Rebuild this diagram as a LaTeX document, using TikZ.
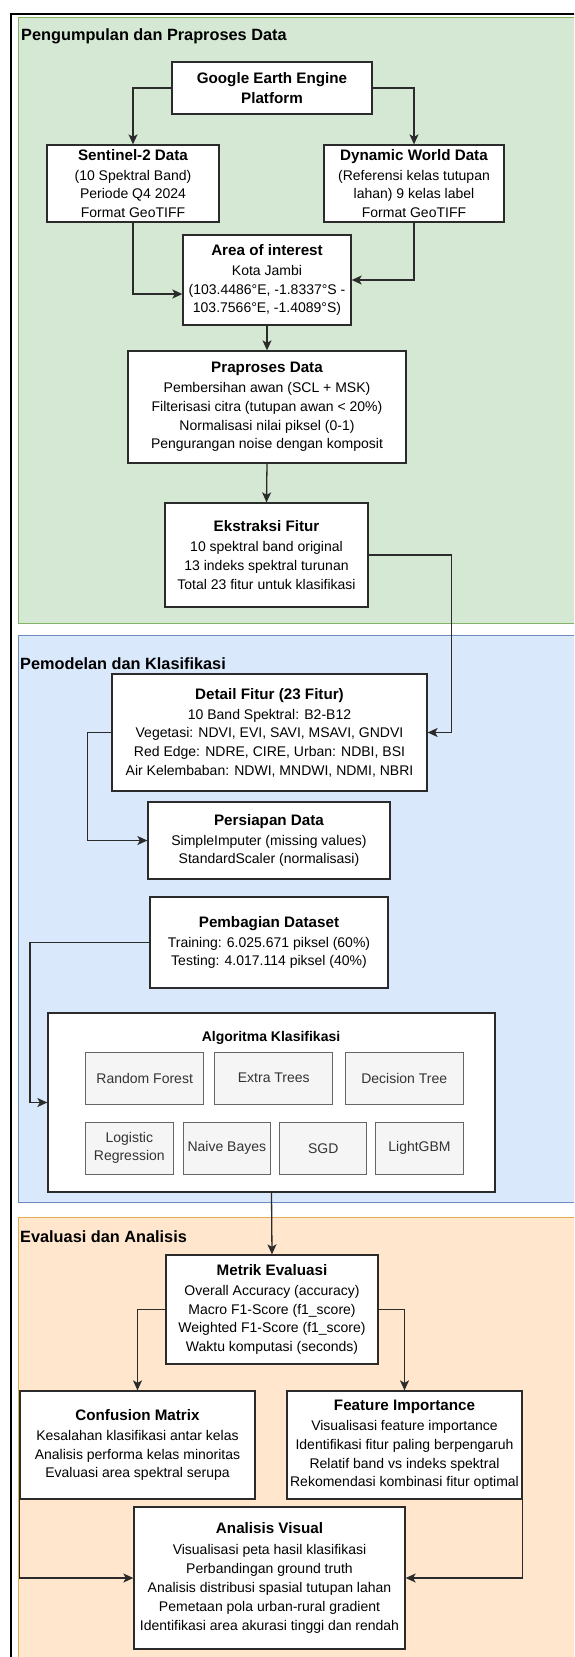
\documentclass[tikz,border=0pt]{standalone}
\usepackage{fontspec}
\setmainfont{Liberation Sans}
\usetikzlibrary{arrows.meta,calc}
\definecolor{gfill}{HTML}{D5E8D4}
\definecolor{gline}{HTML}{82B366}
\definecolor{bfill}{HTML}{DAE8FC}
\definecolor{bline}{HTML}{6C8EBF}
\definecolor{ofill}{HTML}{FFE6CC}
\definecolor{oline}{HTML}{E0B050}
\definecolor{algfill}{HTML}{F5F5F5}
\definecolor{algline}{HTML}{666666}
\definecolor{algtext}{HTML}{333333}
\definecolor{lncol}{HTML}{2B2B2B}
\newcommand{\ttl}[1]{{\fontsize{15.2}{18}\selectfont\bfseries #1}}
\tikzset{
  box/.style={draw=lncol, line width=1.3pt, fill=white, align=center, inner sep=0pt,
    font=\fontsize{14}{18.6}\selectfont},
  algbox/.style={draw=algline, line width=1pt, fill=algfill, text=algtext, align=center,
    inner sep=0pt, font=\fontsize{14}{18}\selectfont},
  conn/.style={draw=lncol, line width=1.3pt, -{Stealth[length=10pt,width=9pt,inset=2.5pt]}},
  plabel/.style={font=\fontsize{16.3}{19}\selectfont\bfseries, anchor=base west, inner sep=0pt},
}
\begin{document}
\begin{tikzpicture}[x=1pt,y=-1pt]
\useasboundingbox (0,0) rectangle (574,1657);
\clip (0,0) rectangle (574,1657);
\fill[white] (0,0) rectangle (574,1657);
% panels
\path[fill=gfill, draw=gline, line width=1pt] (18,17) rectangle (620,623);
\path[fill=bfill, draw=bline, line width=1pt] (18,635) rectangle (620,1202);
\path[fill=ofill, draw=oline, line width=1pt] (18,1217) rectangle (620,1700);
\draw[black, line width=2pt] (11,14) rectangle (700,1800);
\node[plabel] (lab1) at (21,40) {Pengumpulan dan Praproses Data};
\node[plabel] (lab2) at (20,669) {Pemodelan dan Klasifikasi};
\node[plabel] (lab3) at (20,1242) {Evaluasi dan Analisis};
% boxes
\node[box, minimum width=200, minimum height=52, font=\fontsize{15.2}{20}\selectfont\bfseries] (gee) at (272,88) {Google Earth Engine\\Platform};
\node[box, minimum width=172, minimum height=77] (s2) at (133,183.5) {\ttl{Sentinel-2 Data}\\[1.5pt](10 Spektral Band)\\Periode Q4 2024\\Format GeoTIFF};
\node[box, minimum width=180, minimum height=77] (dw) at (414,183.5) {\ttl{Dynamic World Data}\\[1.5pt](Referensi kelas tutupan\\lahan) 9 kelas label\\Format GeoTIFF};
\node[box, minimum width=168, minimum height=90] (aoi) at (267,280) {\ttl{Area of interest}\\[1.5pt]Kota Jambi\\(103.4486°E, -1.8337°S -\\103.7566°E, -1.4089°S)};
\node[box, minimum width=278, minimum height=112] (pra) at (267,407) {\ttl{Praproses Data}\\[1.5pt]Pembersihan awan (SCL + MSK)\\Filterisasi citra (tutupan awan < 20\%)\\Normalisasi nilai piksel (0-1)\\Pengurangan noise dengan komposit};
\node[box, minimum width=203, minimum height=104] (ekf) at (266.5,555) {\ttl{Ekstraksi Fitur}\\[1.5pt]10 spektral band original\\13 indeks spektral turunan\\Total 23 fitur untuk klasifikasi};
\node[box, minimum width=315, minimum height=117] (det) at (269.5,732.5) {\ttl{Detail Fitur (23 Fitur)}\\[1.5pt]10 Band Spektral: B2-B12\\Vegetasi: NDVI, EVI, SAVI, MSAVI, GNDVI\\Red Edge: NDRE, CIRE, Urban: NDBI, BSI\\Air Kelembaban: NDWI, MNDWI, NDMI, NBRI};
\node[box, minimum width=242, minimum height=77] (per) at (269,840.5) {\ttl{Persiapan Data}\\[1.5pt]SimpleImputer (missing values)\\StandardScaler (normalisasi)};
\node[box, minimum width=238, minimum height=91] (pemb) at (269,942.5) {\ttl{Pembagian Dataset}\\[1.5pt]Training: 6.025.671 piksel (60\%)\\Testing: 4.017.114 piksel (40\%)};
\node[box, minimum width=447, minimum height=179] (alg) at (271.5,1102.5) {};
\node[font=\fontsize{14}{17}\selectfont\bfseries, inner sep=0pt] (algt) at (271,1038) {Algoritma Klasifikasi};
\node[algbox, minimum width=118, minimum height=52] (rf) at (144.7,1078) {Random Forest};
\node[algbox, minimum width=118, minimum height=52] (et) at (273.8,1078) {Extra Trees};
\node[algbox, minimum width=118, minimum height=52] (dt) at (404.2,1078) {Decision Tree};
\node[algbox, minimum width=87.5, minimum height=52] (lr) at (129.3,1148.2) {Logistic\\Regression};
\node[algbox, minimum width=87.5, minimum height=52] (nb) at (226.8,1148.2) {Naive Bayes};
\node[algbox, minimum width=87.5, minimum height=52] (sgd) at (323.2,1148.2) {SGD};
\node[algbox, minimum width=87.5, minimum height=52] (lgb) at (419.5,1148.2) {LightGBM};
\node[box, minimum width=212, minimum height=109] (met) at (272,1309.5) {\ttl{Metrik Evaluasi}\\[1.5pt]Overall Accuracy (accuracy)\\Macro F1-Score (f1\_score)\\Weighted F1-Score (f1\_score)\\Waktu komputasi (seconds)};
\node[box, minimum width=235, minimum height=108] (cm) at (137.5,1445) {\ttl{Confusion Matrix}\\[1.5pt]Kesalahan klasifikasi antar kelas\\Analisis performa kelas minoritas\\Evaluasi area spektral serupa};
\node[box, minimum width=235, minimum height=108] (fi) at (404.5,1445) {\ttl{Feature Importance}\\[1.5pt]Visualisasi feature importance\\Identifikasi fitur paling berpengaruh\\Relatif band vs indeks spektral\\Rekomendasi kombinasi fitur optimal};
\node[box, minimum width=271, minimum height=142, font=\fontsize{14}{19}\selectfont] (av) at (269.5,1578) {\ttl{Analisis Visual}\\[1.5pt]Visualisasi peta hasil klasifikasi\\Perbandingan ground truth\\Analisis distribusi spasial tutupan lahan\\Pemetaan pola urban-rural gradient\\Identifikasi area akurasi tinggi dan rendah};
% connectors
\draw[conn] (gee.west) -| (s2.north);
\draw[conn] (gee.east) -| (dw.north);
\draw[conn] (s2.south) |- ($(aoi.west)+(0,14)$);
\draw[conn] (dw.south) |- (aoi.east);
\draw[conn] (aoi.south) -- (pra.north);
\draw[conn] (pra.south) -- (ekf.north);
\draw[conn] (ekf.east) -| ($(det.east)+(24,0)$) -- (det.east);
\draw[conn] (det.west) -| ($(per.west)+(-60,0)$) -- (per.west);
\draw[conn] (pemb.west) -| ($(alg.west)+(-17.5,0)$) -- (alg.west);
\draw[conn] (alg.south) -- (met.north);
\draw[conn] (met.west) -| (cm.north);
\draw[conn] (met.east) -| (fi.north);
\draw[conn] (cm.south west) |- (av.west);
\draw[conn] (fi.south east) |- (av.east);
\end{tikzpicture}
\end{document}
